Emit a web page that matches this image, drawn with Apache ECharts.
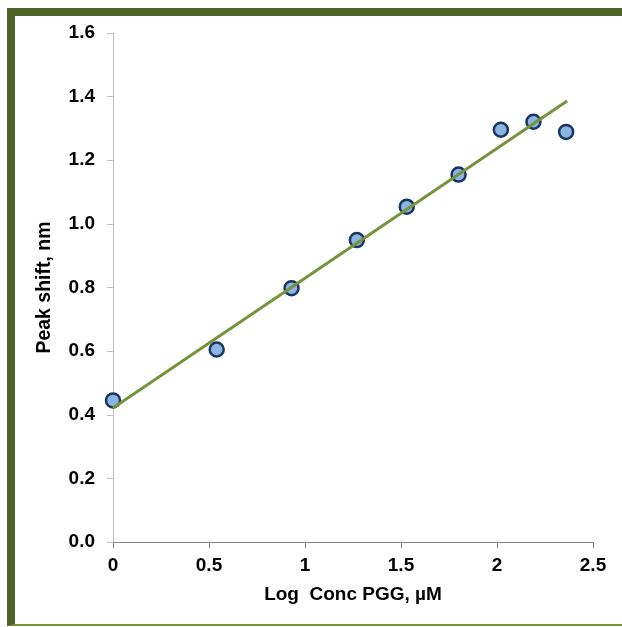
<!DOCTYPE html>
<html>
<head>
<meta charset="utf-8">
<script src="https://cdn.jsdelivr.net/npm/echarts@6/dist/echarts.min.js"></script>
<style>
  html, body { margin: 0; padding: 0; background: #fff; }
  #frame { position: absolute; left: 7px; top: 8px; width: 615px; height: 618px;
           border-top: 8px solid #4F6228; border-left: 8px solid #4F6228;
           border-bottom: 2px solid #77933C; box-sizing: border-box; }
  #chart { position: absolute; left: 0; top: 0; width: 622px; height: 627px; }
</style>
</head>
<body>
<div id="frame"></div>
<div id="chart"></div>
<script>
// Measured points: x = log concentration PGG (µM), y = peak shift (nm)
const logConc = [0, 0.54, 0.93, 1.27, 1.53, 1.80, 2.02, 2.19, 2.36];
const peakShift = [0.445, 0.605, 0.798, 0.949, 1.054, 1.155, 1.296, 1.321, 1.289];
// Linear trendline endpoints
const trendX = [0, 2.365];
const trendY = [0.421, 1.386];
// Axis ticks
const xTicks = [0, 0.5, 1, 1.5, 2, 2.5];
const yTicks = [0, 0.2, 0.4, 0.6, 0.8, 1.0, 1.2, 1.4, 1.6];

const font = 'Liberation Sans, Arial, sans-serif';
const chart = echarts.init(document.getElementById('chart'), null, { renderer: 'canvas' });
chart.setOption({
  animation: false,
  backgroundColor: 'transparent',
  grid: { left: 113, top: 33, right: 29, bottom: 85 },
  xAxis: {
    type: 'value', min: xTicks[0], max: xTicks[xTicks.length - 1], interval: 0.5,
    name: 'Log  Conc PGG, µM', nameLocation: 'middle', nameGap: 43,
    nameTextStyle: { fontFamily: font, fontWeight: 'bold', fontSize: 19, color: '#000' },
    axisLine: { show: true, onZero: false, lineStyle: { color: '#868686', width: 1 } },
    axisTick: { show: true, inside: false, length: 6, lineStyle: { color: '#868686' } },
    splitLine: { show: false },
    axisLabel: { fontFamily: font, fontWeight: 'bold', fontSize: 19, color: '#000', margin: 14,
      formatter: v => String(v) }
  },
  yAxis: {
    type: 'value', min: yTicks[0], max: yTicks[yTicks.length - 1], interval: 0.2,
    name: 'Peak shift, nm', nameLocation: 'middle', nameGap: 58,
    nameTextStyle: { fontFamily: font, fontWeight: 'bold', fontSize: 19.5, color: '#000' },
    axisLine: { show: true, onZero: false, lineStyle: { color: '#BFBFBF', width: 1 } },
    axisTick: { show: true, inside: false, length: 6, lineStyle: { color: '#BFBFBF' } },
    splitLine: { show: false },
    axisLabel: { fontFamily: font, fontWeight: 'bold', fontSize: 19, color: '#000', margin: 18,
      formatter: v => v.toFixed(1) }
  },
  series: [
    {
      type: 'scatter', name: 'data', z: 2,
      data: logConc.map((x, i) => [x, peakShift[i]]),
      symbol: 'circle', symbolSize: 14,
      itemStyle: { color: '#8DB4E2', borderColor: '#17375E', borderWidth: 2.5, opacity: 1 }
    },
    {
      type: 'line', name: 'trend', z: 3,
      data: trendX.map((x, i) => [x, trendY[i]]),
      showSymbol: false, symbol: 'none',
      lineStyle: { color: '#77933C', width: 3 }
    }
  ]
});
</script>
</body>
</html>
